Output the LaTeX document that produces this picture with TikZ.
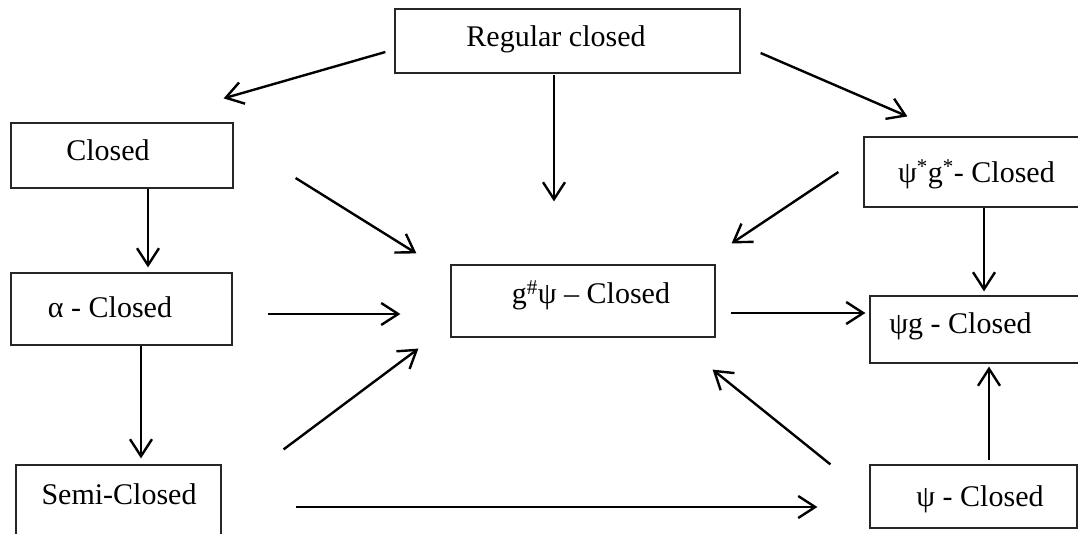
\documentclass[tikz,border=0pt]{standalone}
\usepackage{fontspec}
\setmainfont{Liberation Serif}
\usetikzlibrary{arrows.meta}
\begin{document}
\begin{tikzpicture}[x=1pt,y=-1pt,
  box/.style={draw=black!85, line width=1.2pt, rectangle, inner sep=0pt},
  txt/.style={font=\fontsize{30}{36}\selectfont, text height=20pt, text depth=0pt, inner sep=0pt},
  arr/.style={line width=2.4pt, -{Straight Barb[length=17pt,width=22pt]}}]
\useasboundingbox (0,0) rectangle (1078,534);
\clip (0,0) rectangle (1078,534);
% boxes
\node[box, minimum width=345pt, minimum height=64pt,
  label={[txt,xshift=-11.5pt,yshift=4pt]center:Regular closed}] (reg) at (567.5,41) {};
\node[box, minimum width=222pt, minimum height=65pt,
  label={[txt,xshift=-14pt,yshift=4.5pt]center:Closed}] (closed) at (122,155.5) {};
\node[box, minimum width=221pt, minimum height=72pt,
  label={[txt,xshift=-11.5pt,yshift=2pt]center:α - Closed}] (alpha) at (121.5,309) {};
\node[box, minimum width=205pt, minimum height=72pt,
  label={[txt,xshift=0.5pt,yshift=7pt]center:Semi-Closed}] (semi) at (118.5,501) {};
\node[box, minimum width=264pt, minimum height=72pt,
  label={[txt,xshift=8pt,yshift=7pt]center:g\textsuperscript{\#}ψ – Closed}] (g) at (583,301) {};
\node[box, minimum width=216pt, minimum height=70pt,
  label={[txt,xshift=4.5pt,yshift=-1pt]center:ψ\textsuperscript{*}g\textsuperscript{*}- Closed}] (psgs) at (972,172) {};
\node[box, minimum width=210pt, minimum height=67pt,
  label={[txt,xshift=-14.5pt,yshift=5.5pt]center:ψg - Closed}] (psig) at (975,329.5) {};
\node[box, minimum width=207pt, minimum height=63pt,
  label={[txt,xshift=6.5pt,yshift=0pt]center:ψ - Closed}] (psi) at (973.5,496.5) {};
% connectors
\draw[arr] ([shift={(-9,11)}]reg.west) -- ([shift={(-10,-24)}]closed.north east);
\draw[arr] ([shift={(-13.5,1)}]reg.south) -- ([shift={(-29,-63)}]g.north);
\draw[arr] ([shift={(20,12)}]reg.east) -- ([shift={(44,-20)}]psgs.north west);
\draw[arr] ([shift={(26,0)}]closed.south) -- ([shift={(26.5,-5)}]alpha.north);
\draw[arr] ([shift={(62,22.5)}]closed.east) -- ([shift={(-34,-11)}]g.north west);
\draw[arr] ([shift={(-25,0)}]psgs.west) -- ([shift={(16,-21)}]g.north east);
\draw[arr] ([shift={(12,0)}]psgs.south) -- ([shift={(9,-4)}]psig.north);
\draw[arr] ([shift={(35,5)}]alpha.east) -- ([shift={(-50,13)}]g.west);
\draw[arr] ([shift={(19.5,0)}]alpha.south) -- ([shift={(22.5,-6)}]semi.north);
\draw[arr] ([shift={(62,-15)}]semi.north east) -- ([shift={(-32,11)}]g.south west);
\draw[arr] ([shift={(74,6)}]semi.east) -- ([shift={(-52,10.5)}]psi.west);
\draw[arr] ([shift={(15,12)}]g.east) -- ([shift={(-4,-16.5)}]psig.west);
\draw[arr] ([shift={(-39,0)}]psi.north west) -- ([shift={(-3,32)}]g.south east);
\draw[arr] ([shift={(15.5,-4)}]psi.north) -- ([shift={(14,3)}]psig.south);
\end{tikzpicture}
\end{document}
